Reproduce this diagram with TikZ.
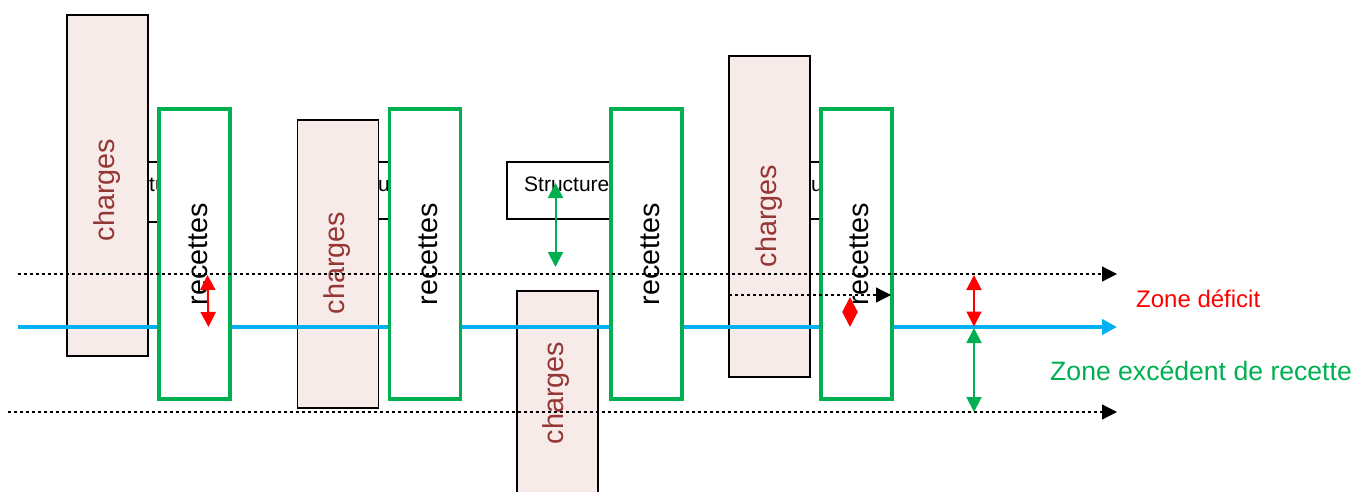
\documentclass[tikz,border=0pt]{standalone}
\usepackage{fontspec}
\setmainfont{Liberation Sans}
\usetikzlibrary{arrows.meta}
\definecolor{cfill}{HTML}{F7EBEA}
\definecolor{ctext}{HTML}{953735}
\definecolor{rgreen}{HTML}{00B050}
\definecolor{lblue}{HTML}{00B0F0}
\definecolor{rred}{HTML}{FF0000}
\begin{document}
\begin{tikzpicture}[x=1pt,y=-1pt,
  structbox/.style={draw=black,line width=1.5pt,fill=white,minimum width=122pt,minimum height=57pt,anchor=north west,inner sep=0pt},
  structtext/.style={anchor=base west,font=\fontsize{21}{24}\selectfont,inner sep=0pt},
  chargebox/.style={draw=black,line width=1.6pt,fill=cfill,rotate=90,minimum height=81pt,inner sep=0pt},
  chargetext/.style={anchor=base,rotate=90,text=ctext,font=\fontsize{28.8}{32}\selectfont,inner sep=0pt},
  recbox/.style={draw=rgreen,line width=3.5pt,fill=white,rotate=90,minimum width=290pt,minimum height=71pt,inner sep=0pt},
  rectext/.style={anchor=base,rotate=90,font=\fontsize{28.8}{32}\selectfont,inner sep=0pt},
  tipA/.style={-{Triangle[length=15pt,width=15pt]}},
  dbl/.style={{Triangle[length=15pt,width=15pt]}-{Triangle[length=15pt,width=15pt]},line width=2pt},
  guide/.style={dash pattern=on 3pt off 3pt,line width=1.2pt,black},
  zonelabel/.style={anchor=base west,inner sep=0pt}
]
\useasboundingbox (0,0) rectangle (1355,491);

% structure boxes (background)
\node[structbox,minimum height=60pt] (s1) at (81,161) {};
\node[structtext] (s1t) at (100,191) {Structure};
\node[structbox] (s2) at (304,161) {};
\node[structtext] (s2t) at (323,191) {Structure};
\node[structbox] (s3) at (506,161) {};
\node[structtext] (s3t) at (524,191) {Structure};
\node[structbox] (s4) at (737,161) {};
\node[structtext] (s4t) at (756,191) {Structure};

% charges
\node[chargebox,minimum width=341pt] (c1) at (107.5,185.5) {};
\node[chargetext] (c1t) at (114,190) {charges};
\node[chargebox,minimum width=288pt] (c2) at (338,264) {};
\node[chargetext] (c2t) at (344.5,263) {charges};
\node[chargebox,minimum width=205pt] (c3) at (557.5,393.5) {};
\node[chargetext] (c3t) at (563.5,393) {charges};
\node[chargebox,minimum width=321pt] (c4) at (769.5,216.5) {};
\node[chargetext] (c4t) at (776,216) {charges};

% blue axis
\coordinate (b0) at (18,327);
\coordinate (b1) at (1117,327);
\draw[lblue,line width=4pt,tipA] (b0) -- (b1);

% recettes
\node[recbox] (r1) at (194.5,254) {};
\node[rectext] (r1t) at (207.5,254) {recettes};
\node[recbox] (r2) at (425,254) {};
\node[rectext] (r2t) at (437.5,254) {recettes};
\node[recbox] (r3) at (646.5,254) {};
\node[rectext] (r3t) at (659,254) {recettes};
\node[recbox] (r4) at (856.5,254) {};
\node[rectext] (r4t) at (868.5,254) {recettes};

% dashed guides
\coordinate (t0) at (18,274);
\coordinate (t1) at (1117,274);
\coordinate (u0) at (8,412);
\coordinate (u1) at (1117,412);
\coordinate (m0) at (729,295);
\coordinate (m1) at (891,295);
\draw[guide,tipA] (t0) -- (t1);
\draw[guide,tipA] (u0) -- (u1);
\draw[guide,tipA] (m0) -- (m1);

% double arrows
\coordinate (a1) at (207.5,275);
\coordinate (a2) at (208.5,327);
\draw[dbl,rred] (a1) -- (a2);
\coordinate (g1) at (555.5,183);
\coordinate (g2) at (555.5,267);
\draw[dbl,rgreen] (g1) -- (g2);
\coordinate (d1) at (850,297);
\coordinate (d2) at (850,327);
\draw[dbl,rred] (d1) -- (d2);
\coordinate (z1) at (974,275);
\coordinate (z2) at (974,326.5);
\coordinate (z3) at (974,328);
\coordinate (z4) at (974,412);
\draw[dbl,rred] (z1) -- (z2);
\draw[dbl,rgreen] (z3) -- (z4);

% zone labels
\node[zonelabel,text=rred,font=\fontsize{24}{28}\selectfont] (zd) at (1136,307) {Zone déficit};
\node[zonelabel,text=rgreen,font=\fontsize{26.6}{30}\selectfont] (ze) at (1050,380) {Zone excédent de recette};
\end{tikzpicture}
\end{document}
